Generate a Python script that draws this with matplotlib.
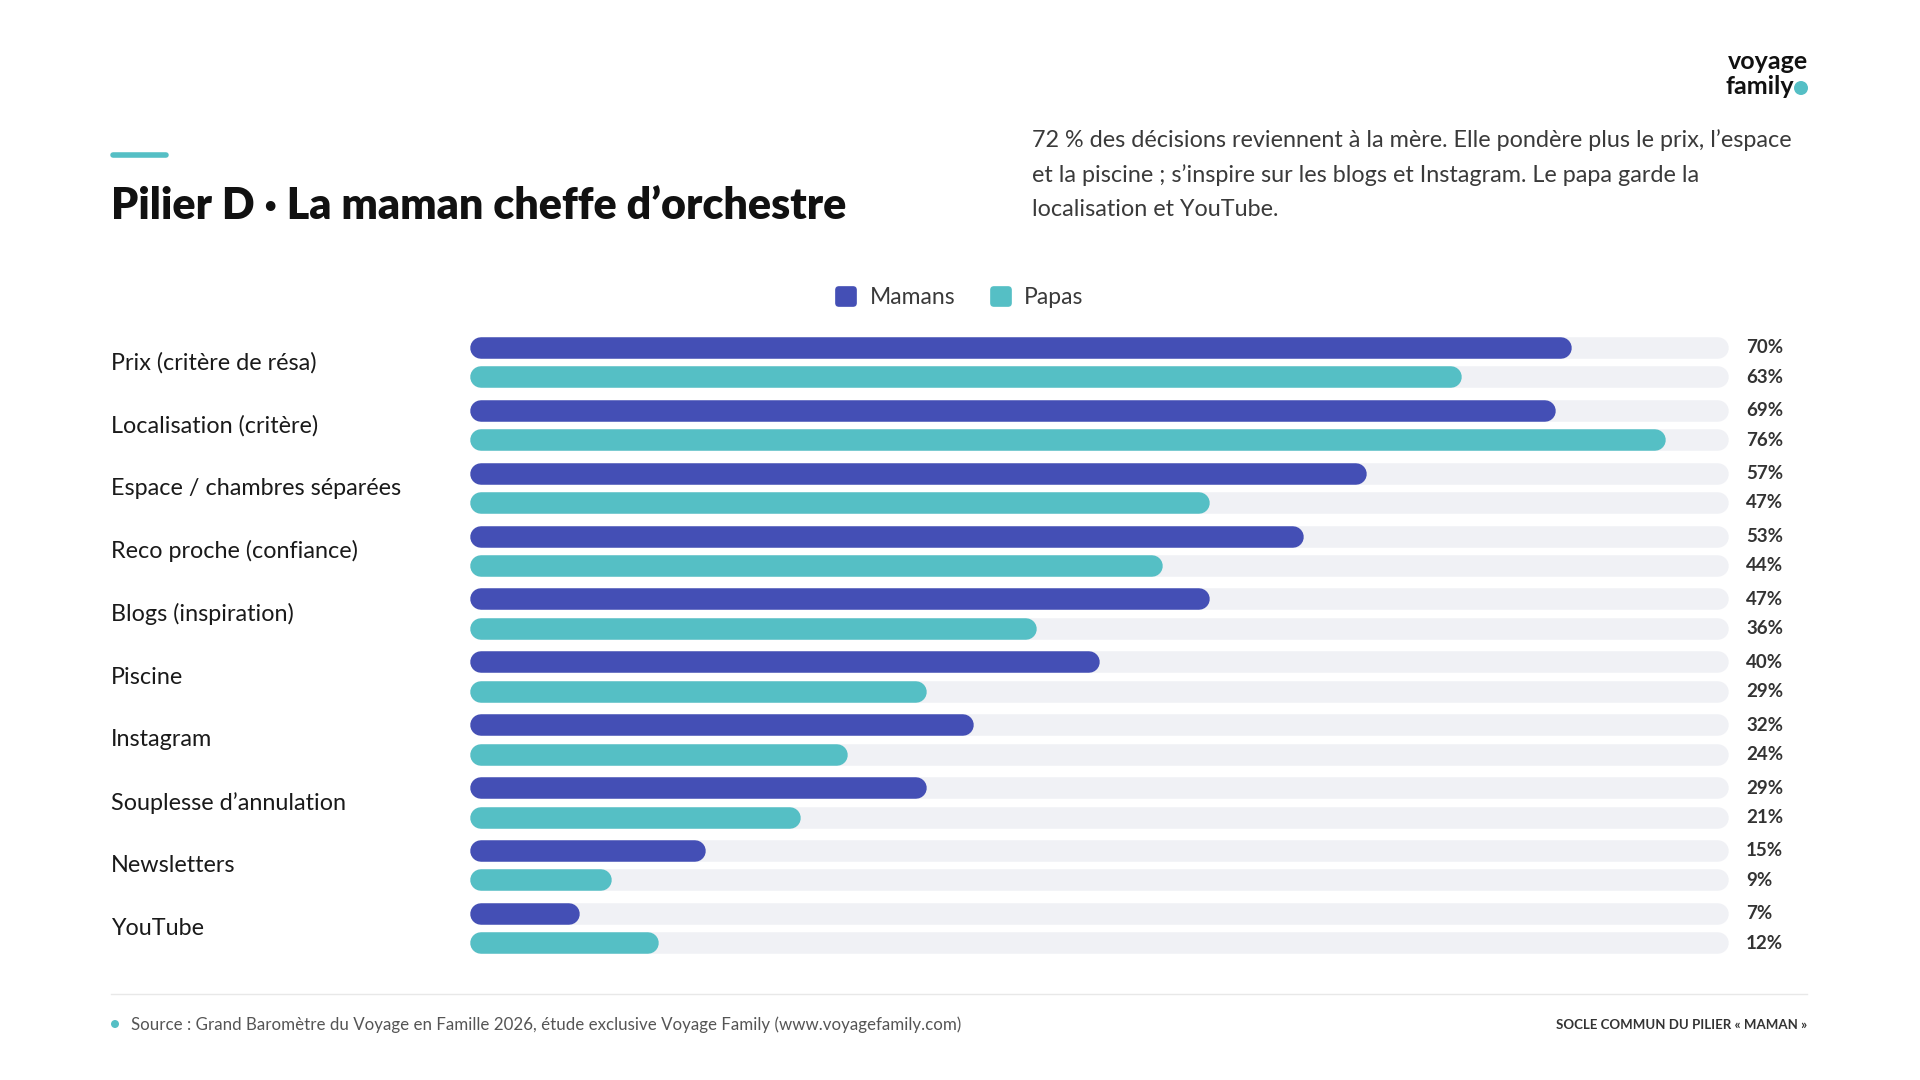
import matplotlib
matplotlib.use("Agg")
import matplotlib.pyplot as plt
import matplotlib.patches as patches
from matplotlib.transforms import blended_transform_factory

plt.rcParams['font.family'] = ['Lato', 'DejaVu Sans']

# Données
categories = [
    "Prix (critère de résa)",
    "Localisation (critère)",
    "Espace / chambres séparées",
    "Reco proche (confiance)",
    "Blogs (inspiration)",
    "Piscine",
    "Instagram",
    "Souplesse d\u2019annulation",
    "Newsletters",
    "YouTube",
]
mamans = [70, 69, 57, 53, 47, 40, 32, 29, 15, 7]
papas = [63, 76, 47, 44, 36, 29, 24, 21, 9, 12]
x_max = 80

title = "Pilier D \u00b7 La maman cheffe d\u2019orchestre"
subtitle_lines = [
    "72 % des décisions reviennent à la mère. Elle pondère plus le prix, l\u2019espace",
    "et la piscine ; s\u2019inspire sur les blogs et Instagram. Le papa garde la",
    "localisation et YouTube.",
]
source = "Source : Grand Baromètre du Voyage en Famille 2026, étude exclusive Voyage Family (www.voyagefamily.com)"
footer_right = "SOCLE COMMUN DU PILIER « MAMAN »"

# Couleurs
C_MAMAN = "#444fb5"
C_PAPA = "#55bfc5"
C_TRACK = "#f0f1f5"
C_TEXT = "#1a1a1a"
C_GREY = "#3a3a3a"

W, H = 1920, 1080
fig = plt.figure(figsize=(19.2, 10.8), dpi=100)
fig.patch.set_facecolor("white")


def fx(px):
    return px / W


def fy(py):
    return 1 - py / H


# Zone des barres
row0, step = 362.5, 62.9
n = len(categories)
top = row0 - step / 2
bottom = row0 + step * (n - 1) + step / 2
x0, x1 = 470, 1729
ax = fig.add_axes([fx(x0), fy(bottom), (x1 - x0) / W, (bottom - top) / H])
ax.set_xlim(0, x_max)
ax.set_ylim(n - 0.5, -0.5)
ax.axis("off")

bar_px = 21.5
lw = bar_px * 72 / 100
r = (bar_px / 2) * x_max / (x1 - x0)
off = 14.7 / step

trans_lab = blended_transform_factory(fig.transFigure, ax.transData)

for i, cat in enumerate(categories):
    for val, dy, col in ((mamans[i], -off, C_MAMAN), (papas[i], off, C_PAPA)):
        y = i + dy
        ax.plot([r, x_max - r], [y, y], color=C_TRACK, lw=lw, solid_capstyle="round", zorder=1)
        ax.plot([r, val - r], [y, y], color=col, lw=lw, solid_capstyle="round", zorder=2)
        ax.text(fx(1746), y, f"{val}%", transform=trans_lab, ha="left", va="center",
                fontsize=13.5, fontweight="bold", color="#333333")
    ax.text(fx(111), i, cat, transform=trans_lab, ha="left", va="center",
            fontsize=16.8, color=C_TEXT)

# Titre
fig.add_artist(plt.Line2D([fx(113), fx(166)], [fy(155), fy(155)], color=C_PAPA, lw=4,
                          solid_capstyle="round"))
fig.text(fx(111), fy(219), title, ha="left", va="baseline", fontsize=31,
         fontweight="heavy", color="#111111")

for k, line in enumerate(subtitle_lines):
    fig.text(fx(1032), fy(140 + 34.9 * k), line, ha="left", va="center",
             fontsize=16.8, color=C_GREY)

# Légende
for sx, tx, col, lab in ((835, 870, C_MAMAN, "Mamans"), (990, 1024, C_PAPA, "Papas")):
    fig.patches.append(patches.FancyBboxPatch(
        (fx(sx + 4), fy(307 - 4)), fx(14), 13 / H,
        boxstyle="round,pad=0.002", mutation_aspect=W / H,
        facecolor=col, edgecolor="none", transform=fig.transFigure, figure=fig))
    fig.text(fx(tx), fy(297), lab, ha="left", va="center", fontsize=16.5, color=C_GREY)

# Logo
fig.text(fx(1808), fy(69), "voyage", ha="right", va="baseline", fontsize=18,
         fontweight="bold", color="#111111")
fig.text(fx(1726), fy(94), "family", ha="left", va="baseline", fontsize=18,
         fontweight="bold", color="#111111")
fig.patches.append(patches.Ellipse((fx(1801), fy(88)), 14 / W, 14 / H,
                                   facecolor=C_PAPA, edgecolor="none",
                                   transform=fig.transFigure, figure=fig))

# Pied de page
fig.add_artist(plt.Line2D([fx(111), fx(1807)], [fy(994), fy(994)], color="#e8e8e8", lw=1))
fig.patches.append(patches.Ellipse((fx(115), fy(1024)), 8 / W, 8 / H,
                                   facecolor=C_PAPA, edgecolor="none",
                                   transform=fig.transFigure, figure=fig))
fig.text(fx(131), fy(1025), source, ha="left", va="center", fontsize=12.2, color="#555555")
fig.text(fx(1807), fy(1025), footer_right, ha="right", va="center", fontsize=9.5,
         fontweight="bold", color="#333333")

fig.savefig("out.png", dpi=100, facecolor="white")
